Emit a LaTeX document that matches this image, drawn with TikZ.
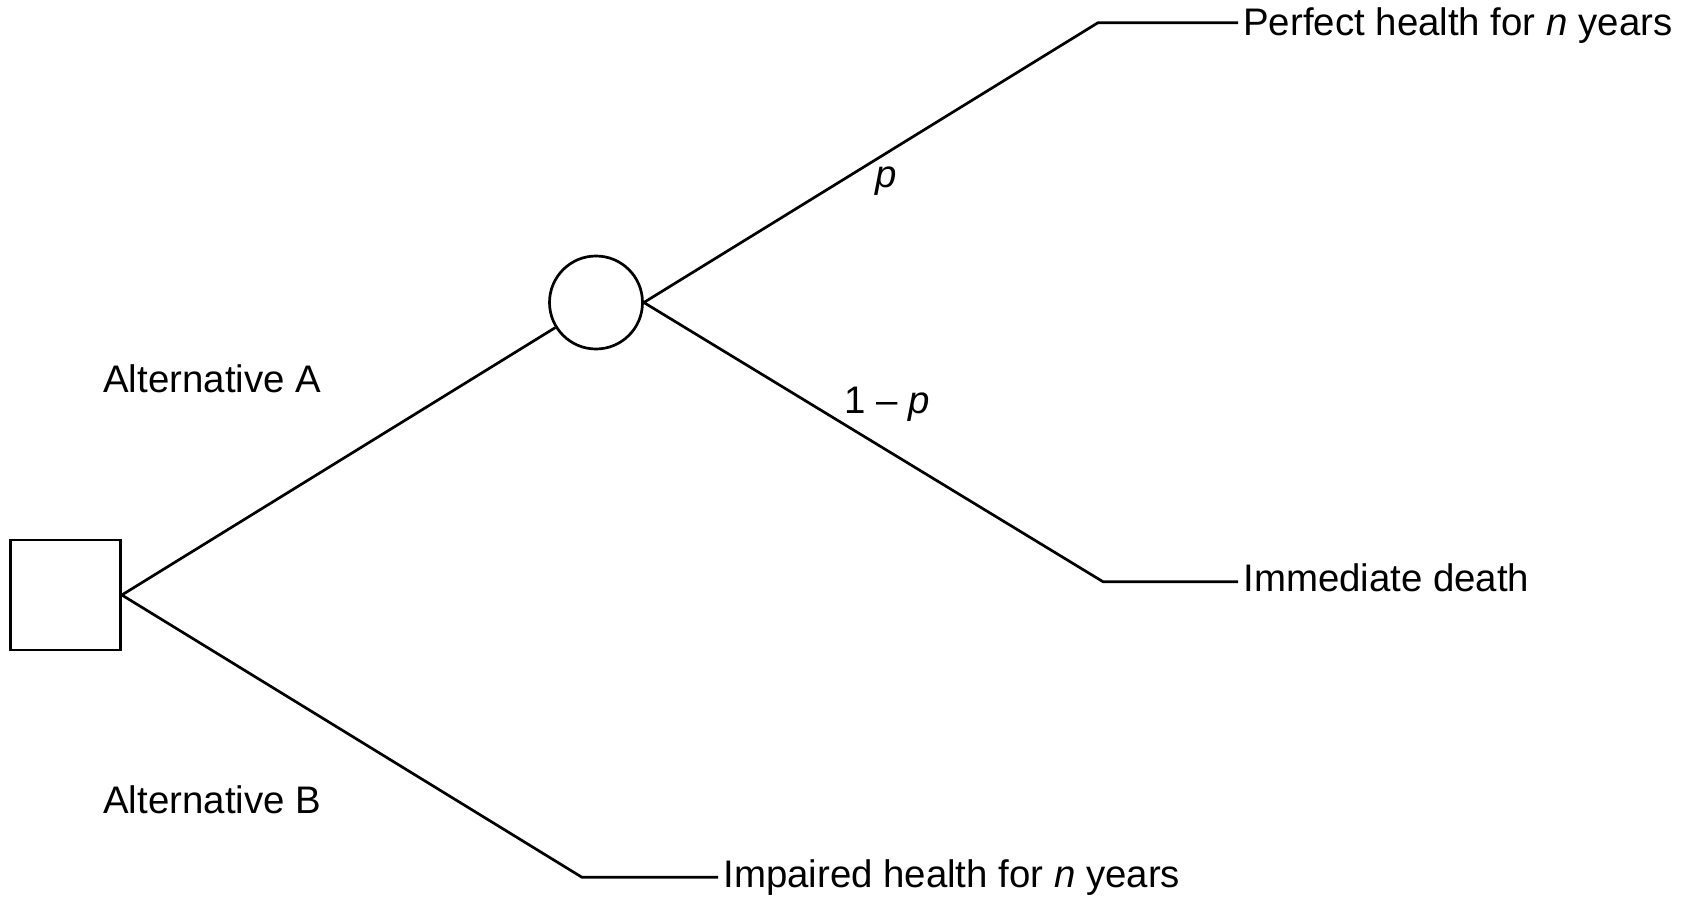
\documentclass[tikz,border=0pt]{standalone}
\usepackage{fontspec}
\setmainfont{Liberation Sans}
\begin{document}
\begin{tikzpicture}[x=1pt,y=-1pt,
  line width=2.7pt,
  every node/.style={font=\fontsize{38.4pt}{44pt}\selectfont},
  decision/.style={draw,rectangle,minimum size=110pt,inner sep=0pt},
  chance/.style={draw,circle,minimum size=93pt,inner sep=0pt},
  leaf/.style={inner xsep=4pt,inner ysep=0pt,anchor=base west},
  lbl/.style={inner sep=0pt,anchor=base west}]
\useasboundingbox[fill=white] (0,0) rectangle (1694,899);
\node[decision] (dec) at (65.5,595) {};
\node[chance] (ch) at (596,302.5) {};
\coordinate (k1) at (1098,22.7);
\coordinate (k2) at (1103,581.7);
\coordinate (k3) at (582,877.3);
\node[leaf] (t1) at (1238,36) {Perfect health for \textit{n} years};
\node[leaf] (t2) at (1238,591.7) {Immediate death};
\node[leaf] (t3) at (718,887) {Impaired health for \textit{n} years};
\node[lbl] (a) at (102,392) {Alternative A};
\node[lbl] (b) at (102,813) {Alternative B};
\node[lbl] (p1) at (874,187) {\textit{p}};
\node[lbl] (p2) at (843,413) {1 – \textit{p}};
\draw (dec.east) -- (ch);
\draw (ch.east) -- (k1) -- (k1 -| t1.west);
\draw (ch.east) -- (k2) -- (k2 -| t2.west);
\draw (dec.east) -- (k3) -- (k3 -| t3.west);
\end{tikzpicture}
\end{document}
